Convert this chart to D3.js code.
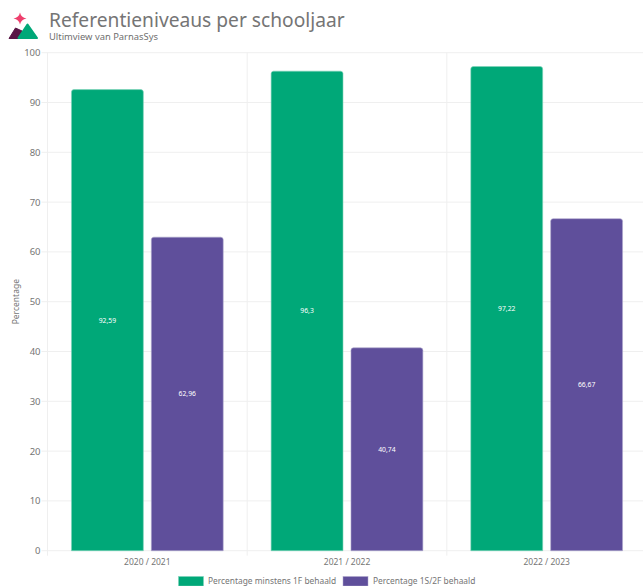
<!DOCTYPE html>
<html>
<head>
<meta charset="utf-8">
<script src="https://cdn.jsdelivr.net/npm/d3@7/dist/d3.min.js"></script>
<style>
html,body{margin:0;padding:0;background:#fff;overflow:hidden}
text{font-family:"Noto Sans","Open Sans",sans-serif}
</style>
</head>
<body>
<div id="chart"></div>
<script>
const years = ["2020 / 2021", "2021 / 2022", "2022 / 2023"];
const seriesNames = ["Percentage minstens 1F behaald", "Percentage 1S/2F behaald"];
const series1F = [92.59, 96.3, 97.22];
const series2F = [62.96, 40.74, 66.67];
const yTicks = [0, 10, 20, 30, 40, 50, 60, 70, 80, 90, 100];
const colors = ["#00A878", "#5F4F9B"];
const edgeColors = ["#7FD3BB", "#AFA7CD"];
const titleText = "Referentieniveaus per schooljaar";
const subtitleText = "Ultimview van ParnasSys";
const yLabel = "Percentage";

const W = 643, H = 586;
const plotLeft = 47.5, plotRight = 646.5, plotTop = 52.7, plotBottom = 550.7;

const svg = d3.select("#chart").append("svg").attr("width", W).attr("height", H).style("display", "block");

const x = d3.scaleBand().domain(years).range([plotLeft, plotRight]);
const x1 = d3.scaleBand().domain(seriesNames).range([0, x.bandwidth()]).paddingInner(0.1).paddingOuter(0.3);
const y = d3.scaleLinear().domain([0, 100]).range([plotBottom, plotTop]);

// grid
const gridColor = "#EFEFEF", tickText = "#757575";
svg.append("g").selectAll("line").data(yTicks).join("line")
  .attr("x1", plotLeft - 6).attr("x2", W)
  .attr("y1", d => y(d)).attr("y2", d => y(d))
  .attr("stroke", gridColor).attr("stroke-width", 1);
svg.append("g").selectAll("line").data(years.map((d, i) => i)).join("line")
  .attr("x1", i => plotLeft + i * x.step()).attr("x2", i => plotLeft + i * x.step())
  .attr("y1", plotTop).attr("y2", plotBottom + 5)
  .attr("stroke", gridColor).attr("stroke-width", 1);

// y axis
const yAxis = d3.axisLeft(y).tickValues(yTicks).tickSize(0).tickPadding(0);
const gy = svg.append("g").attr("transform", `translate(${plotLeft - 7},0)`).call(yAxis);
gy.select(".domain").remove();
gy.selectAll("text").attr("fill", tickText).style("font-size", "9.5px").style("font-family", '"Noto Sans",sans-serif');

// x axis
const xAxis = d3.axisBottom(x).tickSize(0).tickPadding(8);
const gx = svg.append("g").attr("transform", `translate(0,${plotBottom})`).call(xAxis);
gx.select(".domain").remove();
gx.selectAll("text").attr("fill", tickText).style("font-size", "8.5px").style("font-family", '"Noto Sans",sans-serif');

// y title
svg.append("text").attr("transform", `translate(18.5,${y(50)}) rotate(-90)`)
  .attr("text-anchor", "middle").attr("fill", tickText).style("font-size", "8.5px").text(yLabel);

// bars
const r = 2.5;
const barPath = (x0, w, yTop, yBase) =>
  `M${x0},${yBase}V${yTop + r}Q${x0},${yTop} ${x0 + r},${yTop}H${x0 + w - r}Q${x0 + w},${yTop} ${x0 + w},${yTop + r}V${yBase}Z`;

[series1F, series2F].forEach((vals, s) => {
  const g = svg.append("g");
  g.selectAll("path").data(vals).join("path")
    .attr("d", (d, i) => barPath(x(years[i]) + x1(seriesNames[s]), x1.bandwidth(), y(d), y(0)))
    .attr("fill", colors[s]).attr("stroke", edgeColors[s]).attr("stroke-width", 0.6);
  g.selectAll("text").data(vals).join("text")
    .attr("x", (d, i) => x(years[i]) + x1(seriesNames[s]) + x1.bandwidth() / 2)
    .attr("y", d => y(d / 2))
    .attr("dy", "0.35em")
    .attr("text-anchor", "middle").attr("fill", "#fff").style("font-size", "6.8px")
    .text(d => String(d).replace(".", ","));
});

// legend
const legendX = [178.5, 343], legendTextX = [208, 373];
const lg = svg.append("g").selectAll("g").data(seriesNames).join("g");
lg.append("rect").attr("x", (d, i) => legendX[i]).attr("y", 576.5).attr("width", 25).attr("height", 9.5)
  .attr("fill", (d, i) => colors[i]).attr("stroke", (d, i) => edgeColors[i]).attr("stroke-width", 0.5);
lg.append("text").attr("x", (d, i) => legendTextX[i]).attr("y", 581.5).attr("dy", "0.35em")
  .attr("fill", tickText).style("font-size", "8.4px").text(d => d);

// title
svg.append("text").attr("x", 49).attr("y", 26.5).attr("fill", "#757575").style("font-size", "19.2px").text(titleText);
svg.append("text").attr("x", 49).attr("y", 39.5).attr("fill", "#6f6f6f").style("font-size", "9.4px").text(subtitleText);

// logo
const logo = svg.append("g");
logo.append("path").attr("d", "M20,12.5 Q21,17.5 26.5,18.5 Q21,19.5 20,24.5 Q19,19.5 13.5,18.5 Q19,17.5 20,12.5Z").attr("fill", "#EE3F6D");
logo.append("path").attr("d", "M9,38.5 L15.5,28 L22,31 L26,38.5Z").attr("fill", "#5A1646").attr("stroke", "#5A1646").attr("stroke-linejoin", "round");
logo.append("path").attr("d", "M18.5,38 L27.5,24.5 L37,38Z").attr("fill", "#00A878").attr("stroke", "#00A878").attr("stroke-width", 2).attr("stroke-linejoin", "round");
</script>
</body>
</html>
